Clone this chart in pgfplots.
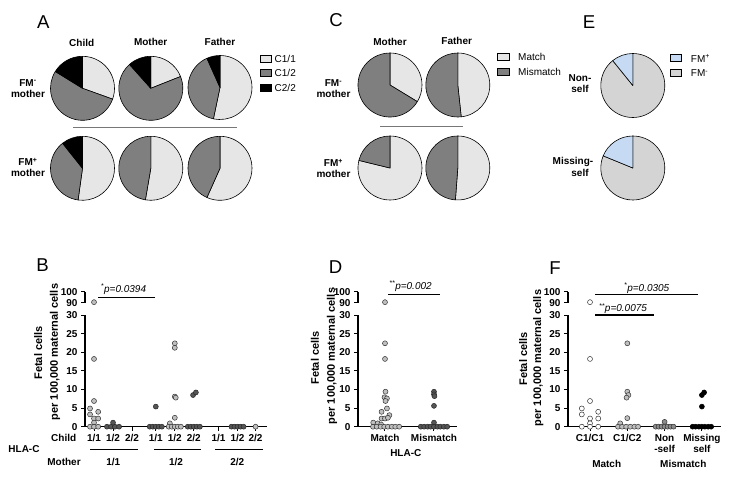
\documentclass[border=0pt]{standalone}
\usepackage{fontspec}
\setmainfont{Liberation Sans}
\usepackage{pgfplots}
\pgfplotsset{compat=1.18}

\definecolor{pielight}{HTML}{E6E6E6}
\definecolor{piemid}{HTML}{7F7F7F}
\definecolor{pieblue}{HTML}{C6DBF3}
\definecolor{piefm}{HTML}{D4D4D4}
\definecolor{ptlight}{HTML}{BFBFBF}
\definecolor{ptdark}{HTML}{555555}
\definecolor{ptmid}{HTML}{8C8C8C}
\definecolor{sepgray}{HTML}{777777}

\newcommand{\labfont}{\bfseries\fontsize{10}{11}\selectfont}
\newcommand{\reg}{\fontsize{10}{11}\selectfont}
\tikzset{lab/.style={font=\labfont}}

% pie: centre x, centre y (picture pixels, y down), list of percent/colour
\newcommand{\pie}[3]{%
  \gdef\cum{0}%
  \foreach \v/\col in {#3}{%
    \pgfmathsetmacro\sa{90-3.6*\cum}%
    \pgfmathsetmacro\ea{90-3.6*(\cum+\v)}%
    \filldraw[fill=\col, draw=black, line width=0.6pt, line join=round]
      (#1,-#2) -- ++(\sa:32pt) arc[start angle=\sa, end angle=\ea, radius=32pt] -- cycle;
    \pgfmathsetmacro\nc{\cum+\v}%
    \global\let\cum\nc
  }%
}

\pgfplotsset{
  scat/.style={
    scale only axis, clip=false, enlargelimits=false,
    axis x line=bottom, axis y line=left,
    axis line style={-, line width=1.1pt},
    every outer x axis line/.append style={-},
    every outer y axis line/.append style={-},
    tick align=outside, major tick length=4pt,
    tick style={black, line width=1pt},
    tick label style={font=\labfont},
    xticklabel style={align=center},
    /pgf/number format/assume math mode=true,
    height=111.7pt, ymin=0, ymax=30, ytick={0,5,...,30},
  },
  topax/.style={scat, axis x line=none, height=11pt,
    ymin=90, ymax=100, ytick={90,100}, xtick=\empty},
  pts/.style={only marks, mark=*, mark size=2.5pt},
  light/.style={pts, mark options={fill=ptlight, draw=black!80, line width=0.5pt}},
  dark/.style={pts, mark options={fill=ptdark, draw=black!85, line width=0.5pt}},
  white/.style={pts, mark options={fill=white, draw=black!80, line width=0.5pt}},
  mid/.style={pts, mark options={fill=ptmid, draw=black!80, line width=0.5pt}},
  blk/.style={pts, mark options={fill=black, draw=black, line width=0.5pt}},
}

\begin{document}
\begin{tikzpicture}

%%%%%%%%%%%%%%%% B %%%%%%%%%%%%%%%%
\begin{axis}[scat, at={(85pt,-426.7pt)}, anchor=south west, width=182pt,
  xmin=0.526, xmax=10.1,
  xtick={1,2,3,4.25,5.25,6.25,7.55,8.55,9.5},
  xticklabels={1/1,1/2,2/2,1/1,1/2,2/2,1/1,1/2,2/2}]
\addplot[dark] table {
x y
1.68 0
1.90 0
2.10 0
2.32 0
2.00 1.1
3.93 0
4.09 0
4.25 0
4.41 0
4.57 0
4.25 5.4
5.93 0
6.09 0
6.25 0
6.41 0
6.57 0
6.21 8.5
6.36 9.2
8.23 0
8.39 0
8.55 0
8.71 0
8.87 0
};
\addplot[light] table {
x y
0.79 4.9
0.79 3.3
0.79 0
1.00 18.2
1.00 6.9
1.00 2.2
1.00 1.1
1.00 0
1.22 4.0
1.22 2.2
1.22 0
5.25 22.4
5.25 21.2
5.25 8.1
5.30 7.8
5.25 2.4
4.99 0.9
4.93 0
5.09 0
5.25 0
5.41 0
5.57 0
9.50 0
};
\end{axis}
\begin{axis}[topax, at={(85pt,-302.7pt)}, anchor=south west, width=182pt,
  xmin=0.526, xmax=10.1]
\addplot[light] table {
x y
1.00 90.5
};
\end{axis}

%%%%%%%%%%%%%%%% D %%%%%%%%%%%%%%%%
\begin{axis}[scat, at={(358pt,-426.7pt)}, anchor=south west, width=99pt,
  xmin=0.449, xmax=2.47, xtick={1,2}, xticklabels={Match,Mismatch}]
\addplot[light] table {
x y
1.00 22.4
1.00 18.2
1.01 9.4
0.99 7.9
1.04 7.6
1.01 6.9
1.04 4.9
0.93 4.0
1.09 3.1
0.93 2.2
1.00 2.2
1.06 2.4
0.76 1.1
0.85 0.9
0.92 0.6
0.755 0
0.83 0
0.91 0
0.984 0
1.06 0
1.14 0
1.21 0
1.29 0
};
\addplot[dark] table {
x y
2.00 9.4
2.00 8.7
2.01 8.2
2.00 5.6
2.00 1.1
1.73 0
1.80 0
1.87 0
1.93 0
2.00 0
2.07 0
2.13 0
2.20 0
2.27 0
};
\end{axis}
\begin{axis}[topax, at={(358pt,-302.7pt)}, anchor=south west, width=99pt,
  xmin=0.449, xmax=2.47]
\addplot[light] table {
x y
1.00 90.5
};
\end{axis}

%%%%%%%%%%%%%%%% F %%%%%%%%%%%%%%%%
\begin{axis}[scat, at={(568pt,-426.7pt)}, anchor=south west, width=152.9pt,
  xmin=0.41, xmax=4.51, xtick={1,2,3,4},
  xticklabels={C1/C1,C1/C2,{Non\\-self},{Missing\\self}}]
\addplot[white] table {
x y
0.78 4.9
0.78 3.3
0.78 0
1.00 18.2
1.00 6.9
1.00 2.2
1.00 0.9
1.00 0
1.22 4.0
1.22 2.2
1.22 0
};
\addplot[light] table {
x y
2.00 22.4
2.00 9.4
2.03 8.5
1.98 7.8
2.00 2.3
1.81 0.9
1.75 0
1.86 0
1.97 0
2.08 0
2.19 0
2.29 0
};
\addplot[mid] table {
x y
3.00 1.3
2.76 0
2.84 0
2.92 0
3.00 0
3.08 0
3.16 0
3.24 0
};
\addplot[blk] table {
x y
4.06 9.2
4.00 8.5
4.00 5.4
3.75 0
3.83 0
3.92 0
4.00 0
4.08 0
4.17 0
4.25 0
};
\end{axis}
\begin{axis}[topax, at={(568pt,-302.7pt)}, anchor=south west, width=152.9pt,
  xmin=0.41, xmax=4.51]
\addplot[white] table {
x y
1.00 90.5
};
\end{axis}

\begin{scope}[x=1pt, y=1pt]
% panel letters
\foreach \t/\px/\py in {A/43.3/21.7, B/42.5/265.5, C/336/20.3, D/335.5/266.7, E/589/21.7, F/555/268.3}
  \node[font=\fontsize{18.6}{20}\selectfont, inner sep=0pt] at (\px,-\py) {\t};

%%%%% A pies
\pie{82.5}{88.3}{30.5/pielight,53.3/piemid,16.2/black}
\pie{150.8}{88.3}{19/pielight,69.4/piemid,11.6/black}
\pie{220}{87.5}{53.3/pielight,40/piemid,6.7/black}
\pie{82.5}{168.3}{52.2/pielight,37.1/piemid,10.7/black}
\pie{150.8}{168.3}{52.7/pielight,47.3/piemid}
\pie{220}{168.3}{56.7/pielight,43.3/piemid}
\node[lab, inner sep=0pt] at (81.7,-42.5) {Child};
\node[lab, inner sep=0pt] at (150.7,-41.7) {Mother};
\node[lab, inner sep=0pt] at (220,-41.7) {Father};
\node[lab, inner sep=0pt, align=center] at (28,-88.7) {FM\textsuperscript{-}\\mother};
\node[lab, inner sep=0pt, align=center] at (28,-167.5) {FM\textsuperscript{+}\\mother};
\draw[sepgray, line width=1.5pt] (73,-127.7) -- (237,-127.7);
\filldraw[fill=pielight, draw=black, line width=0.6pt] (260,-55.8) rectangle (271.5,-62.8);
\filldraw[fill=piemid, draw=black, line width=0.6pt] (260,-69.2) rectangle (271.5,-76.2);
\filldraw[fill=black, draw=black, line width=0.6pt] (260,-84) rectangle (271.5,-91);
\node[font=\reg, anchor=west, inner sep=0pt] at (274.5,-59.3) {C1/1};
\node[font=\reg, anchor=west, inner sep=0pt] at (274.5,-72.7) {C1/2};
\node[font=\reg, anchor=west, inner sep=0pt] at (274.5,-87.5) {C2/2};

%%%%% C pies
\pie{390}{85}{33.7/pielight,66.3/piemid}
\pie{457.8}{85}{48.3/pielight,51.7/piemid}
\pie{390}{168}{78.8/pielight,21.2/piemid}
\pie{457.8}{168}{51.2/pielight,48.8/piemid}
\node[lab, inner sep=0pt] at (390,-41.7) {Mother};
\node[lab, inner sep=0pt] at (456.7,-40.7) {Father};
\node[lab, inner sep=0pt, align=center] at (333.5,-89) {FM\textsuperscript{-}\\mother};
\node[lab, inner sep=0pt, align=center] at (333.5,-168.5) {FM\textsuperscript{+}\\mother};
\draw[sepgray, line width=1.5pt] (380,-126.7) -- (462.7,-126.7);
\filldraw[fill=pielight, draw=black, line width=0.6pt] (497,-53.8) rectangle (509,-60.8);
\filldraw[fill=piemid, draw=black, line width=0.6pt] (497,-68.8) rectangle (509,-75.8);
\node[font=\reg, anchor=west, inner sep=0pt] at (518,-57.3) {Match};
\node[font=\reg, anchor=west, inner sep=0pt] at (518,-72.3) {Mismatch};

%%%%% E pies
\pie{632.8}{85.5}{89.2/piefm,10.8/pieblue}
\pie{632.8}{168}{81.2/piefm,18.8/pieblue}
\node[lab, inner sep=0pt] at (580,-78.3) {Non-};
\node[lab, inner sep=0pt] at (580,-89.3) {self};
\node[lab, inner sep=0pt] at (573,-161.7) {Missing-};
\node[lab, inner sep=0pt] at (580,-173.3) {self};
\filldraw[fill=pieblue, draw=black, line width=0.6pt] (670,-54.8) rectangle (681.7,-61.8);
\filldraw[fill=piefm, draw=black, line width=0.6pt] (670,-69.8) rectangle (681.7,-76.8);
\node[font=\reg, anchor=west, inner sep=0pt] at (690.7,-58.3) {FM\textsuperscript{+}};
\node[font=\reg, anchor=west, inner sep=0pt] at (690.7,-73.3) {FM\textsuperscript{-}};

%%%%% B annotations
\node[font=\bfseries\fontsize{11}{12}\selectfont, rotate=90, inner sep=0pt] at (38.3,-353) {Fetal cells};
\node[font=\bfseries\fontsize{11}{12}\selectfont, rotate=90, inner sep=0pt] at (55,-352) {per 100,000 maternal cells};
\draw[line width=1.1pt] (98,-297.3) -- (155,-297.3);
\node[font=\itshape\fontsize{10}{11}\selectfont, inner sep=0pt] at (123.5,-289) {\textsuperscript{*}p=0.0394};
\node[lab, inner sep=0pt] at (63.7,-438.3) {Child};
\node[lab, inner sep=0pt] at (24,-449) {HLA-C};
\node[lab, inner sep=0pt] at (64,-461.7) {Mother};
\draw[line width=0.9pt] (90,-449.3) -- (138.3,-449.3);
\draw[line width=0.9pt] (154,-449.3) -- (200.7,-449.3);
\draw[line width=0.9pt] (215,-449.3) -- (263.3,-449.3);
\node[lab, inner sep=0pt] at (113.3,-461.7) {1/1};
\node[lab, inner sep=0pt] at (176,-461.7) {1/2};
\node[lab, inner sep=0pt] at (237.3,-461.7) {2/2};

%%%%% D annotations
\node[font=\bfseries\fontsize{11}{12}\selectfont, rotate=90, inner sep=0pt] at (315,-358) {Fetal cells};
\node[font=\bfseries\fontsize{11}{12}\selectfont, rotate=90, inner sep=0pt] at (332,-356) {per 100,000 maternal cells};
\draw[line width=1.1pt] (388,-294.3) -- (440,-294.3);
\node[font=\itshape\fontsize{10}{11}\selectfont, inner sep=0pt] at (410.5,-286) {\textsuperscript{**}p=0.002};
\node[lab, inner sep=0pt] at (405.8,-453.3) {HLA-C};

%%%%% F annotations
\node[font=\bfseries\fontsize{11}{12}\selectfont, rotate=90, inner sep=0pt] at (523.3,-359) {Fetal cells};
\node[font=\bfseries\fontsize{11}{12}\selectfont, rotate=90, inner sep=0pt] at (538.3,-358) {per 100,000 maternal cells};
\draw[line width=1.1pt] (595,-294.8) -- (698,-294.8);
\node[font=\itshape\fontsize{10}{11}\selectfont, inner sep=0pt] at (646.7,-288) {\textsuperscript{*}p=0.0305};
\draw[line width=1.1pt] (595,-315) -- (654,-315);
\node[font=\itshape\fontsize{10}{11}\selectfont, inner sep=0pt] at (623,-308.8) {\textsuperscript{**}p=0.0075};
\node[lab, inner sep=0pt] at (606.7,-464) {Match};
\node[lab, inner sep=0pt] at (683.3,-464) {Mismatch};
\end{scope}

\pgfresetboundingbox
\path[use as bounding box] (0pt,0pt) rectangle (730pt,-476pt);
\end{tikzpicture}
\end{document}
